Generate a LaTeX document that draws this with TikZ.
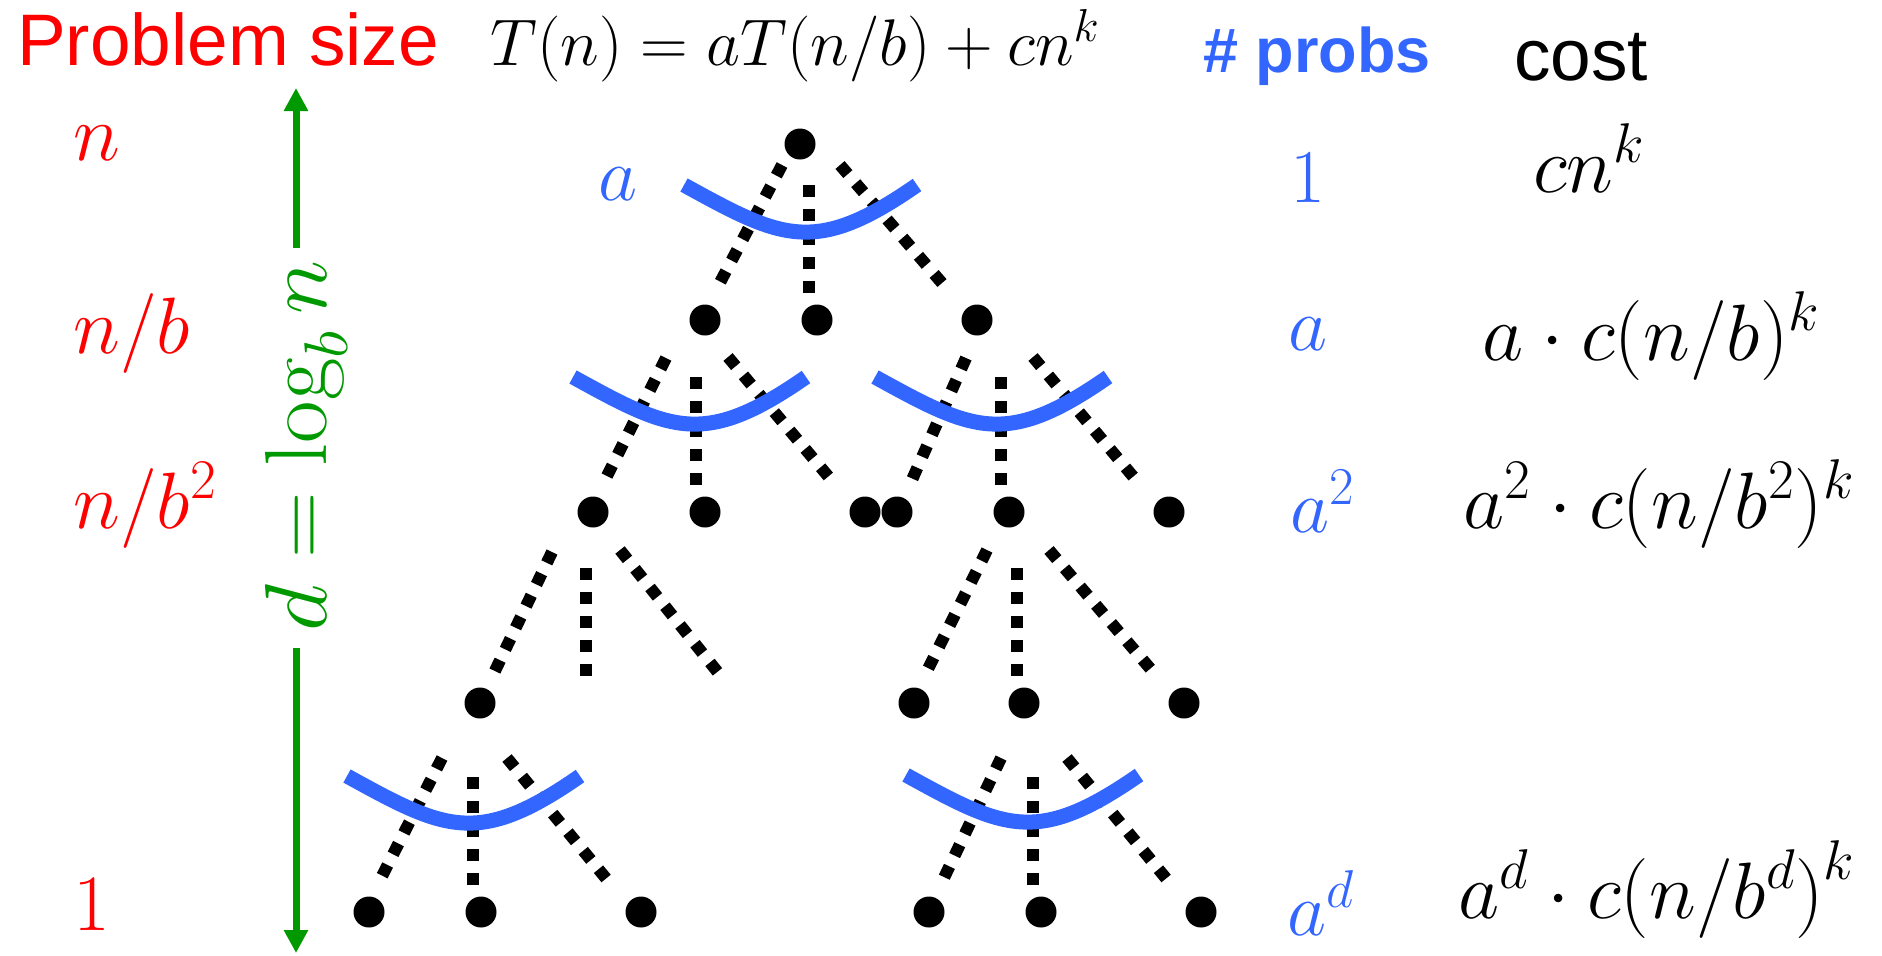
\RequirePackage{fix-cm}
\documentclass[tikz,border=0pt]{standalone}
\usepackage{fontspec}
\newfontfamily\arialf{Liberation Sans}
\usetikzlibrary{arrows.meta,calc}
\definecolor{pred}{RGB}{255,0,0}
\definecolor{pblue}{RGB}{51,102,255}
\definecolor{pgreen}{RGB}{0,153,0}
\begin{document}
\begin{tikzpicture}[x=0.5pt,y=-0.5pt,
  dotnode/.style={circle,fill=black,inner sep=0pt,minimum size=15.5pt},
  dotln/.style={line width=6pt,dash pattern=on 6pt off 6pt},
  cupline/.style={pblue,line width=7.5pt},
  redlbl/.style={inner sep=0pt,text=pred,font=\fontsize{40}{42}\selectfont},
  bluelbl/.style={inner sep=0pt,text=pblue,font=\fontsize{38}{40}\selectfont},
  costlbl/.style={inner sep=0pt,font=\fontsize{40}{42}\selectfont},
  garrow/.style={pgreen,line width=3.5pt,-{Triangle[width=11.5pt,length=11.5pt]}},
  cup/.pic={\draw[cupline] (0,0) .. controls (98,54) and (131,71) .. (233,0);}
]
\useasboundingbox (0,0) rectangle (1882,955);
\fill[white] (0,0) rectangle (1882,955);

% header
\node[anchor=base,inner sep=0pt,text=pred,font=\arialf\fontsize{36.5}{40}\selectfont] (title) at (228,65) {Problem size};
\node[anchor=base,inner sep=0pt,font=\fontsize{33}{36}\selectfont] (eq) at (795,65) {$T(n)=aT(n/b)+cn^k$};
\node[anchor=base,inner sep=0pt,text=pblue,font=\arialf\bfseries\fontsize{31.5}{34}\selectfont] (probs) at (1317,72) {\# probs};
\node[anchor=base,inner sep=0pt,font=\arialf\fontsize{36.5}{40}\selectfont] (cost) at (1581,80) {cost};

% problem sizes
\node[redlbl,anchor=base west] (s0) at (73,160) {$n$};
\node[redlbl,anchor=base west] (s1) at (73,353) {$n/b$};
\node[redlbl,anchor=base west] (s2) at (73,528) {$n/b^2$};
\node[redlbl,anchor=base] (sd) at (92,930) {$1$};

% depth arrow
\node[rotate=90,xscale=1.05,inner sep=0pt,text=pgreen,font=\fontsize{44}{46}\selectfont] (dl) at (306,446) {$d=\log_b n$};
\coordinate (atop) at (296,88);
\coordinate (abot) at (296,953);
\coordinate (u1) at (296,248);
\coordinate (l1) at (296,648);
\draw[garrow] (u1) -- (atop);
\draw[garrow] (l1) -- (abot);

% tree dots
\foreach \nm/\x/\y in {r/800/144,
  n1a/705/320, n1b/817/320, n1c/977/320,
  n2a/593/512, n2b/705/512, n2c/865/512, n2d/897/512, n2e/1009/512, n2f/1169/512,
  n3a/480/703, n3b/914/703, n3c/1024/703, n3d/1184/703,
  n4a/369/912, n4b/481/912, n4c/641/912, n4d/929/912, n4e/1041/912, n4f/1201/912}
  \node[dotnode] (\nm) at (\x,\y) {};

% dotted edges
\foreach \p/\ax/\ay/\c/\bx/\by in {
  r/-18/21/n1a/11/-30, r/9/41/n1b/-8/-27, r/40/21/n1c/-29/-30,
  n1a/-39/38/n2a/11/-30, n1a/-9/57/n2b/-9/-27, n1a/23/37/n2c/-32/-30,
  n1c/-11/38/n2d/14/-30, n1c/24/57/n2e/-8/-27, n1c/56/37/n2f/-33/-32,
  n2a/-41/40/n3a/13/-28, n2a/-7/56/n2a/-7/165, n2a/27/38/n2a/127/163,
  n2e/-22/38/n3b/12/-30, n2e/8/56/n3c/-7/-26, n2e/40/38/n3d/-30/-30,
  n3a/-38/55/n4a/10/-30, n3a/-7/74/n4b/-8/-27, n3a/27/55/n4c/-32/-30,
  n3c/-23/55/n4d/13/-30, n3c/9/74/n4e/-8/-27, n3c/43/55/n4f/-32/-30}
  \draw[dotln] ($(\p)+(\ax,\ay)$) -- ($(\c)+(\bx,\by)$);

% blue cups
\pic at (684,185) {cup};
\pic at (573,377) {cup};
\pic at (875,377) {cup};
\pic at (347,776) {cup};
\pic at (906,775) {cup};

\node[bluelbl,anchor=base] (ba) at (618,200) {$a$};

% number of problems
\node[bluelbl,anchor=base] (p0) at (1308,202) {$1$};
\node[bluelbl,anchor=base] (p1) at (1308,350) {$a$};
\node[bluelbl,anchor=base west] (p2) at (1290,532) {$a^2$};
\node[bluelbl,anchor=base west] (pd) at (1287,935) {$a^d$};

% costs
\node[costlbl,anchor=base] (c0) at (1589,192) {$cn^k$};
\node[costlbl,anchor=base] (c1) at (1651,360) {$a\cdot c(n/b)^k$};
\node[costlbl,anchor=base] (c2) at (1659,528) {$a^2\cdot c(n/b^2)^k$};
\node[costlbl,anchor=base] (cd) at (1657,918) {$a^d\cdot c\bigl(n/b^d\bigr)^k$};
\end{tikzpicture}
\end{document}
